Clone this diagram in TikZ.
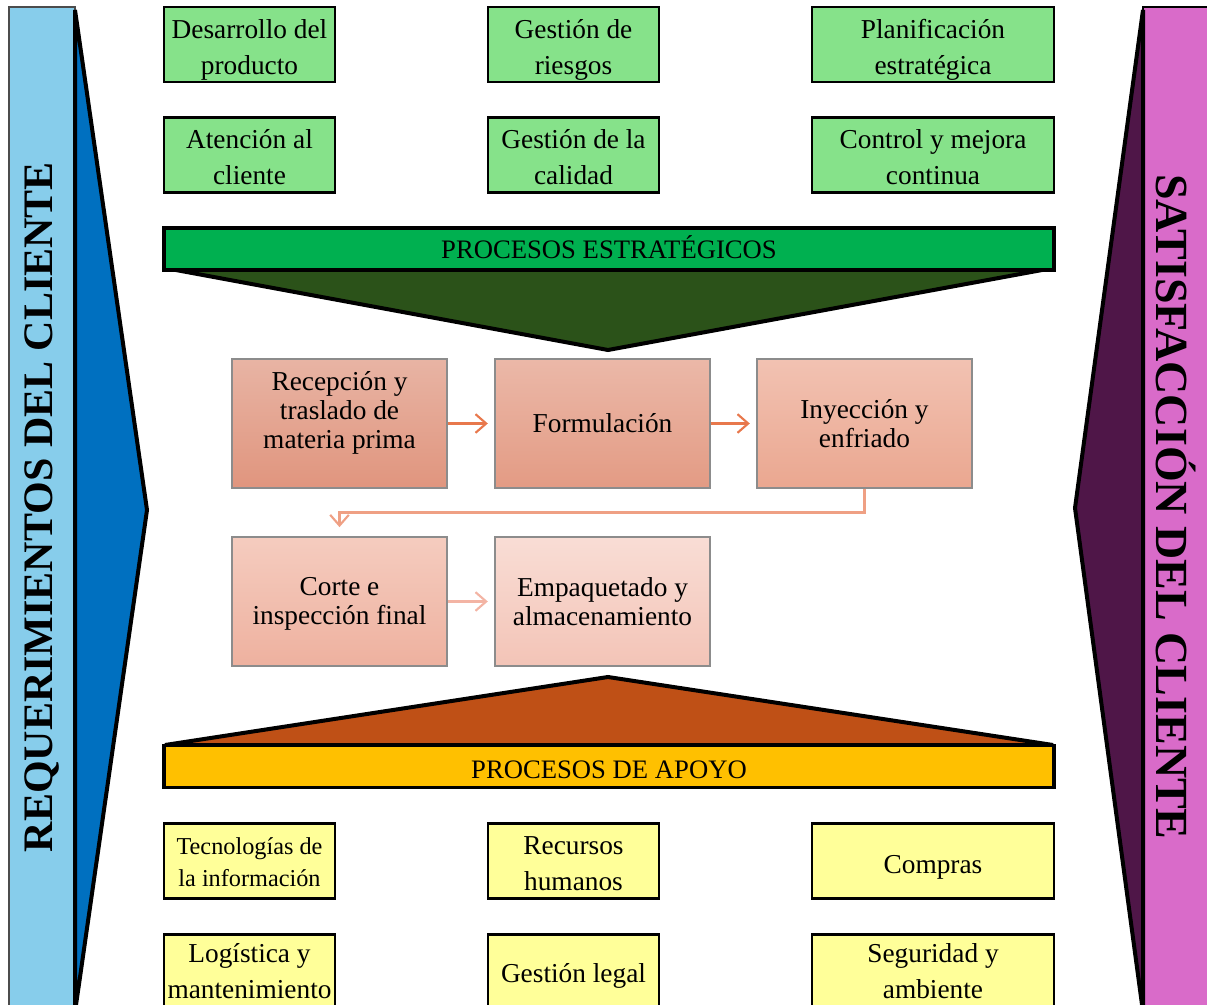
\documentclass[tikz,border=0pt]{standalone}
\usepackage{fontspec}
\setmainfont{Liberation Serif}
\usetikzlibrary{arrows.meta}

\definecolor{sidebluefill}{HTML}{87CDEB}
\definecolor{sidebluetri}{HTML}{0070C0}
\definecolor{sidepinkfill}{HTML}{D96BC9}
\definecolor{sidepurpletri}{HTML}{4F1648}
\definecolor{stratfill}{HTML}{86E28A}
\definecolor{stratbanner}{HTML}{00B050}
\definecolor{strattri}{HTML}{2B5219}
\definecolor{supfill}{HTML}{FFFF99}
\definecolor{supbanner}{HTML}{FFC000}
\definecolor{suptri}{HTML}{BF5016}
\definecolor{flowA}{HTML}{E8784C}
\definecolor{flowB}{HTML}{EFA084}
\definecolor{flowC}{HTML}{F3B4A4}
\definecolor{pAtop}{HTML}{E8B4A4}
\definecolor{pAbot}{HTML}{E0957E}
\definecolor{pBtop}{HTML}{EBB8A8}
\definecolor{pBbot}{HTML}{E39B84}
\definecolor{pCtop}{HTML}{F2C2B2}
\definecolor{pCbot}{HTML}{EAA790}
\definecolor{pDtop}{HTML}{F5CCBF}
\definecolor{pDbot}{HTML}{EEB19F}
\definecolor{pEtop}{HTML}{F9DDD5}
\definecolor{pEbot}{HTML}{F3C4B7}

\newcommand\pxu{0.75pt}
% centred lines, lowered by #1 while keeping the box size
\newcommand\boxtext[2]{\raisebox{#1}[\height][\depth]{\begin{tabular}{@{}c@{}}#2\end{tabular}}}

\tikzset{
  sqbox/.style={draw=black, line width=2.2pt, inner sep=0pt, align=center,
    minimum height=75*\pxu, font=\fontsize{20.5}{27}\selectfont},
  narrowbox/.style={sqbox, minimum width=171*\pxu},
  widebox/.style={sqbox, minimum width=242*\pxu},
  stratbox/.style={fill=stratfill},
  supbox/.style={fill=supfill},
  banner/.style={draw=black, line width=2.8pt, inner sep=0pt,
    minimum width=890*\pxu, minimum height=42*\pxu,
    font=\fontsize{20}{24}\selectfont},
  procbox/.style={draw=black!45, line width=0.8pt, inner sep=0pt, align=center,
    minimum width=215*\pxu, minimum height=129*\pxu,
    font=\fontsize{20.5}{21.8}\selectfont},
  proctext/.style={inner sep=0pt, align=center, font=\fontsize{20.5}{21.8}\selectfont},
  flow/.style={line width=1.6pt, -{Straight Barb[length=8pt,width=14pt,line width=1.6pt]}},
  sidetext/.style={inner sep=0pt, font=\bfseries},
  wedge/.style={draw=black, line width=3pt, line join=miter},
}

\begin{document}
\begin{tikzpicture}[x=0.75pt, y=-0.75pt]
\useasboundingbox (0,0) rectangle (1207,1005);
\clip (0,0) rectangle (1207,1005);

% left side: customer requirements
\fill[sidebluefill, draw=black!70, line width=1pt] (9,7) rectangle (75,1020);
\draw[wedge, fill=sidebluetri] (75,10) -- (147,510) -- (75,1012) -- cycle;
\node[sidetext, rotate=90, font=\fontsize{31.5}{34}\selectfont\bfseries] (reqtext) at (42,507) {REQUERIMIENTOS DEL CLIENTE};

% right side: customer satisfaction
\fill[sidepinkfill, draw=black, line width=1pt] (1143,7) rectangle (1215,1020);
\draw[wedge, fill=sidepurpletri] (1143,10) -- (1075,508) -- (1143,1012) -- cycle;
\node[sidetext, rotate=-90, font=\fontsize{34.5}{37}\selectfont\bfseries] (sattext) at (1176,507) {SATISFACCIÓN DEL CLIENTE};

% strategic processes
\node[narrowbox, stratbox] (s1) at (249.5,44.5) {\boxtext{-3.6pt}{Desarrollo del\\producto}};
\node[narrowbox, stratbox] (s2) at (573.5,44.5) {\boxtext{-3.6pt}{Gestión de\\riesgos}};
\node[widebox,   stratbox] (s3) at (933,44.5)   {\boxtext{-3.6pt}{Planificación\\estratégica}};
\node[narrowbox, stratbox] (s4) at (249.5,155)  {\boxtext{-3pt}{Atención al\\cliente}};
\node[narrowbox, stratbox] (s5) at (573.5,155)  {\boxtext{-3pt}{Gestión de la\\calidad}};
\node[widebox,   stratbox] (s6) at (933,155)    {\boxtext{-3pt}{Control y mejora\\continua}};

\draw[wedge, fill=strattri] (165,268) -- (608,350) -- (1053,268) -- cycle;
\node[banner, fill=stratbanner] (sban) at (609,249) {\boxtext{-2.3pt}{PROCESOS ESTRATÉGICOS}};

% operational flow
\node[procbox, top color=pAtop, bottom color=pAbot] (p1) at (339.5,423.5) {};
\node[proctext] (p1t) at (339.5,412.5) {Recepción y\\traslado de\\materia prima};
\node[procbox, top color=pBtop, bottom color=pBbot] (p2) at (602.5,423.5) {Formulación};
\node[procbox, top color=pCtop, bottom color=pCbot] (p3) at (864.5,423.5) {Inyección y\\enfriado};
\node[procbox, top color=pDtop, bottom color=pDbot] (p4) at (339.5,601.5) {\boxtext{-2.2pt}{Corte e\\inspección final}};
\node[procbox, top color=pEtop, bottom color=pEbot] (p5) at (602.5,601.5) {Empaquetado y\\almacenamiento};

\draw[flow, flowA, shorten >=5pt] (p1) -- (p2);
\draw[flow, flowA, shorten >=5pt] (p2) -- (p3);
\draw[flow, flowB, shorten >=7pt] (p3.south) -- ++(0,24) -| (p4.north);
\draw[flow, flowC, shorten >=5pt] (p4) -- (p5);

% support processes
\draw[wedge, fill=suptri] (165,745) -- (608,677) -- (1053,745) -- cycle;
\node[banner, fill=supbanner] (aban) at (609,766.5) {\boxtext{-4.5pt}{PROCESOS DE APOYO}};

\node[narrowbox, supbox, font=\fontsize{18.2}{24}\selectfont] (a1) at (249.5,861) {\boxtext{-2.2pt}{Tecnologías de\\la información}};
\node[narrowbox, supbox] (a2) at (573.5,861) {\boxtext{-3pt}{Recursos\\humanos}};
\node[widebox,   supbox] (a3) at (933,861)   {\boxtext{-4pt}{Compras}};
\node[narrowbox, supbox] (a4) at (249.5,972) {\boxtext{-0.8pt}{Logística y\\mantenimiento}};
\node[narrowbox, supbox] (a5) at (573.5,972) {\boxtext{-2.4pt}{Gestión legal}};
\node[widebox,   supbox] (a6) at (933,972)   {\boxtext{-0.8pt}{Seguridad y\\ambiente}};
\end{tikzpicture}
\end{document}
